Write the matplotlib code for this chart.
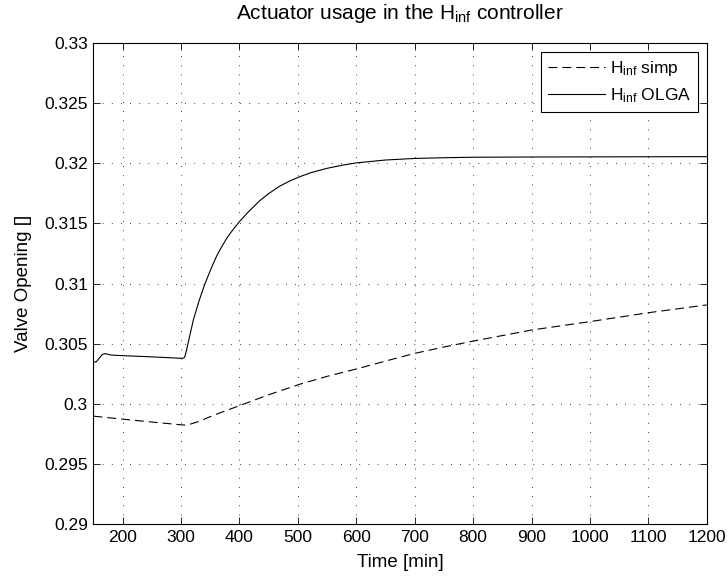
import numpy as np
import matplotlib
matplotlib.use("Agg")
import matplotlib.pyplot as plt

plt.rcParams['font.family'] = ['Liberation Sans', 'DejaVu Sans']
plt.rcParams['font.size'] = 12.5
plt.rcParams['mathtext.fontset'] = 'custom'
plt.rcParams['mathtext.rm'] = 'Liberation Sans'
plt.rcParams['mathtext.default'] = 'regular'

# H_inf OLGA (solid)
t_olga = [150, 155, 160, 165, 170, 180, 200, 250, 300, 303, 306, 309, 321,
          331, 341, 351, 361, 370, 380, 390, 400, 415, 435, 450, 469, 485, 500,
          521, 550, 575, 600, 650, 700, 750, 800, 900, 1000, 1100, 1200]
v_olga = [0.30345, 0.3035, 0.3038, 0.3041, 0.30417, 0.30405, 0.30400, 0.30390,
          0.30378, 0.30378, 0.30385, 0.30440, 0.30698, 0.30860, 0.31000, 0.31120,
          0.31230, 0.31310, 0.31390, 0.31455, 0.31515, 0.31595, 0.31690, 0.31748,
          0.31810, 0.31850, 0.31882, 0.31920, 0.31958, 0.31983, 0.32003, 0.32027,
          0.32040, 0.32046, 0.32050, 0.32052, 0.32053, 0.32054, 0.32055]

# H_inf simp (dashed)
t_simp = [150, 200, 250, 300, 310, 330, 350, 367, 401, 450, 503, 550, 600, 650,
          700, 750, 800, 900, 1000, 1100, 1200]
v_simp = [0.29897, 0.29872, 0.29848, 0.29825, 0.29822, 0.29852, 0.29893, 0.29925,
          0.29986, 0.30075, 0.30162, 0.30228, 0.30289, 0.30355, 0.30419, 0.30472,
          0.30521, 0.30613, 0.30683, 0.30757, 0.30822]

xticks = [200, 300, 400, 500, 600, 700, 800, 900, 1000, 1100, 1200]
yticks = [0.29, 0.295, 0.3, 0.305, 0.31, 0.315, 0.32, 0.325, 0.33]
ytick_labels = ['0.29', '0.295', '0.3', '0.305', '0.31', '0.315', '0.32', '0.325', '0.33']

fig = plt.figure(figsize=(7.27, 5.78), dpi=100)
ax = fig.add_axes([0.1286, 0.0934, 0.8435, 0.8322])

ax.plot(t_simp, v_simp, color='k', lw=0.8, dashes=(8, 4.5), label='H$_{inf}$ simp')
ax.plot(t_olga, v_olga, color='k', lw=0.8, label='H$_{inf}$ OLGA')

ax.set_xlim(150, 1200)
ax.set_ylim(0.29, 0.33)
ax.set_xticks(xticks)
ax.set_yticks(yticks)
ax.set_yticklabels(ytick_labels)
ax.tick_params(direction='in', top=True, right=True, length=5, width=0.6, pad=4)
for s in ax.spines.values():
    s.set_linewidth(0.8)
ax.grid(True, color='k', lw=0.6, linestyle=(0, (1, 10)))

ax.set_xlabel('Time [min]', fontsize=13.5, labelpad=7)
ax.set_ylabel('Valve Opening []', fontsize=13.5, labelpad=9)
ax.set_title('Actuator usage in the H$_{inf}$ controller', pad=17)

leg = ax.legend(loc='upper right', fancybox=False, framealpha=1, edgecolor='k',
                borderaxespad=0.5, handlelength=3.3, fontsize=12.5,
                labelspacing=0.5, borderpad=0.4, handletextpad=0.3)
leg.get_frame().set_linewidth(0.8)

fig.savefig('out.png', dpi=100)
